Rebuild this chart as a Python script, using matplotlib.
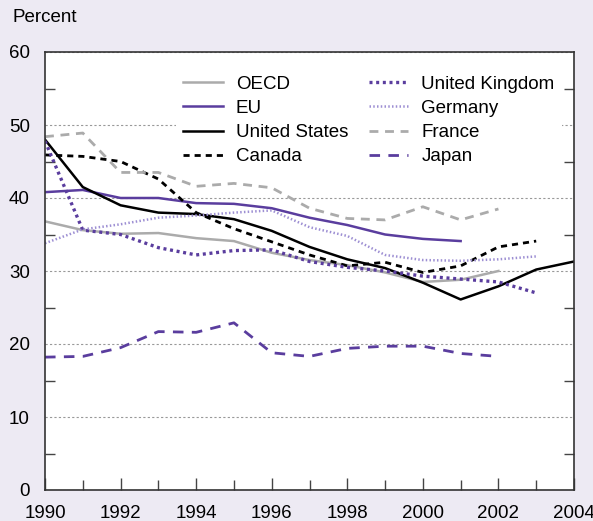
import numpy as np
import matplotlib.pyplot as plt
from matplotlib.ticker import MultipleLocator

plt.rcParams['font.family'] = ['Liberation Sans', 'DejaVu Sans']

years = list(range(1990, 2005))

oecd = [36.8, 35.6, 35.1, 35.2, 34.5, 34.1, 32.5, 31.5, 30.8, 29.8, 28.5, 28.8, 30.0]
eu = [40.8, 41.1, 40.0, 40.0, 39.3, 39.2, 38.6, 37.3, 36.3, 35.0, 34.4, 34.1]
usa = [48.0, 41.5, 39.0, 38.0, 37.8, 37.1, 35.5, 33.3, 31.6, 30.4, 28.4, 26.1, 27.9, 30.2, 31.3]
canada = [45.9, 45.7, 45.0, 42.6, 38.0, 35.8, 34.0, 32.2, 30.7, 31.2, 29.8, 30.7, 33.3, 34.1]
uk = [47.8, 35.6, 35.0, 33.2, 32.2, 32.8, 32.9, 31.3, 30.5, 30.0, 29.3, 28.9, 28.5, 27.0]
germany = [33.8, 35.7, 36.4, 37.3, 37.6, 38.0, 38.3, 36.0, 34.8, 32.2, 31.5, 31.4, 31.6, 32.0]
france = [48.4, 48.9, 43.5, 43.5, 41.6, 42.0, 41.4, 38.6, 37.2, 37.0, 38.8, 37.0, 38.5]
japan = [18.2, 18.3, 19.5, 21.7, 21.6, 22.9, 18.8, 18.3, 19.4, 19.7, 19.7, 18.7, 18.3]

purple = '#5a3d9e'
light_purple = '#9d8fd3'
gray = '#ababab'
bg = '#edeaf3'
fs = 13.5

fig = plt.figure(figsize=(5.93, 5.21), dpi=100, facecolor=bg)
ax = fig.add_axes([45 / 593, 31 / 521, 529 / 593, 438 / 521])
ax.set_facecolor('white')

# legend order: column 1 then column 2
ax.plot(years[:len(oecd)], oecd, color=gray, lw=1.8, label='OECD')
ax.plot(years[:len(eu)], eu, color=purple, lw=1.8, label='EU')
ax.plot(years[:len(usa)], usa, color='black', lw=1.8, label='United States')
ax.plot(years[:len(canada)], canada, color='black', lw=2, ls=(0, (2.2, 1.8)), label='Canada')
ax.plot(years[:len(uk)], uk, color=purple, lw=2.4, ls=(0, (0.9, 1.1)), label='United Kingdom')
ax.plot(years[:len(germany)], germany, color=light_purple, lw=1.8, ls=(0, (0.6, 0.9)), label='Germany')
ax.plot(years[:len(france)], france, color=gray, lw=2, ls=(0, (3.2, 2.4)), label='France')
ax.plot(years[:len(japan)], japan, color=purple, lw=2, ls=(0, (3.8, 3)), label='Japan')

ax.set_xlim(1990, 2004)
ax.set_ylim(0, 60)
ax.xaxis.set_major_locator(MultipleLocator(2))
ax.xaxis.set_minor_locator(MultipleLocator(1))
ax.yaxis.set_major_locator(MultipleLocator(10))
ax.yaxis.set_minor_locator(MultipleLocator(5))

ax.tick_params(axis='x', which='major', direction='in', length=9, width=1, color='#444444',
               labelsize=fs, pad=11, top=False)
ax.tick_params(axis='x', which='minor', direction='in', length=7, width=1, color='#444444', top=False)
ax.tick_params(axis='y', which='major', direction='in', length=0, labelsize=fs, pad=11)
ax.tick_params(axis='y', which='minor', direction='in', length=7, width=1, color='#444444',
               left=True, right=True)

ax.yaxis.grid(True, which='major', color='#999999', lw=0.8, ls=(0, (2, 2)))
ax.set_axisbelow(True)

for s in ax.spines.values():
    s.set_color('#333333')
    s.set_linewidth(1.2)

leg = ax.legend(ncol=2, loc='upper right', bbox_to_anchor=(0.995, 0.985), fontsize=fs,
                frameon=True, facecolor='white', edgecolor='none', framealpha=1,
                handlelength=2.1, handletextpad=0.7, columnspacing=1.1, labelspacing=0.38,
                borderpad=0.4)

fig.text(12 / 593, 1 - 18 / 521, 'Percent', fontsize=fs, va='center', ha='left')

fig.savefig('out.png', dpi=100, facecolor=bg)
